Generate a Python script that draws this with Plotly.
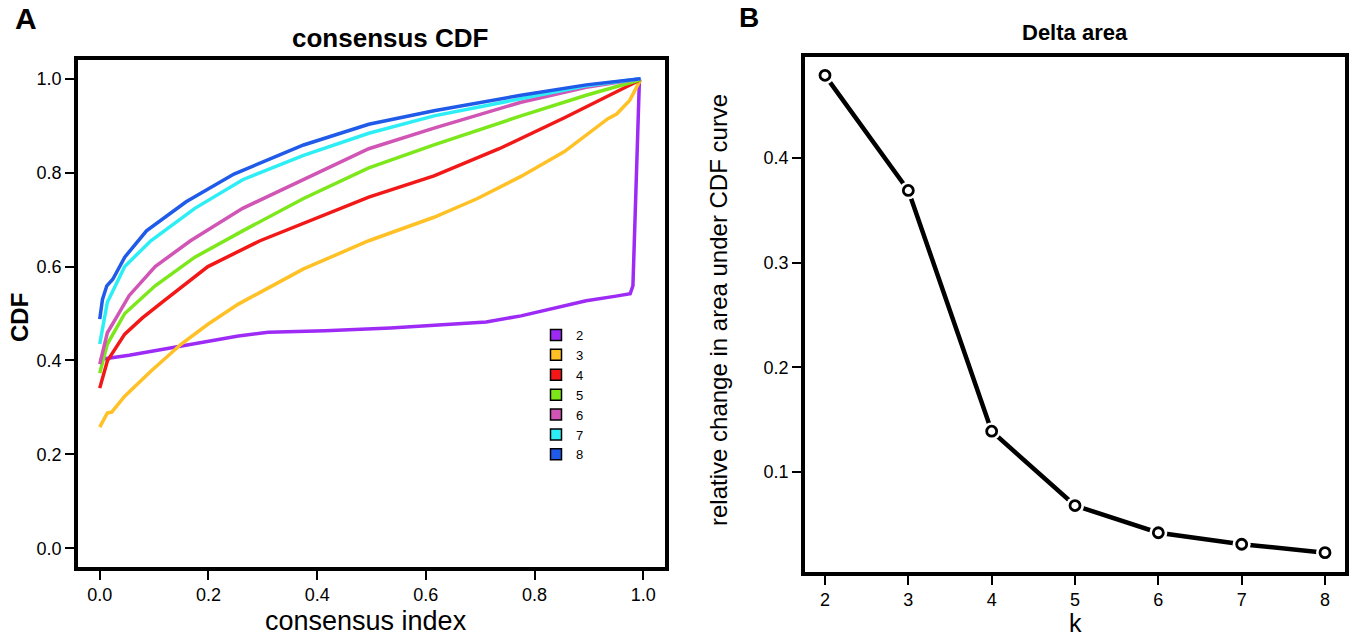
import plotly.graph_objects as go

W, H = 1354, 640

# ---------------- data: consensus CDF curves (k = 2..8) ----------------
cdf_x_k2 = [0.0, 0.006, 0.054, 0.135, 0.199, 0.255, 0.31, 0.415, 0.535, 0.655, 0.711, 0.775, 0.839, 0.895, 0.95, 0.971, 0.976, 0.981, 0.993]
cdf_y_k2 = [0.40, 0.403, 0.411, 0.427, 0.44, 0.452, 0.46, 0.463, 0.469, 0.477, 0.482, 0.495, 0.512, 0.527, 0.537, 0.542, 0.542, 0.559, 1.0]

cdf_x_k3 = [0.0, 0.014, 0.022, 0.046, 0.094, 0.15, 0.199, 0.255, 0.295, 0.375, 0.495, 0.615, 0.695, 0.775, 0.855, 0.935, 0.951, 0.975, 0.995]
cdf_y_k3 = [0.258, 0.288, 0.29, 0.324, 0.377, 0.435, 0.477, 0.52, 0.545, 0.595, 0.655, 0.705, 0.745, 0.792, 0.845, 0.915, 0.925, 0.954, 0.998]

cdf_x_k4 = [0.0, 0.01, 0.014, 0.046, 0.078, 0.118, 0.199, 0.295, 0.415, 0.495, 0.615, 0.735, 0.855, 0.951, 0.995]
cdf_y_k4 = [0.341, 0.38, 0.399, 0.456, 0.49, 0.527, 0.60, 0.655, 0.71, 0.748, 0.793, 0.851, 0.917, 0.972, 0.998]

cdf_x_k5 = [0.0, 0.014, 0.046, 0.102, 0.175, 0.263, 0.375, 0.495, 0.615, 0.775, 0.895, 0.995]
cdf_y_k5 = [0.373, 0.435, 0.50, 0.559, 0.62, 0.676, 0.745, 0.81, 0.859, 0.921, 0.965, 0.998]

cdf_x_k6 = [0.0, 0.014, 0.03, 0.054, 0.102, 0.167, 0.263, 0.375, 0.495, 0.615, 0.775, 0.895, 0.995]
cdf_y_k6 = [0.392, 0.459, 0.49, 0.538, 0.60, 0.655, 0.724, 0.786, 0.851, 0.895, 0.95, 0.982, 1.0]

cdf_x_k7 = [0.0, 0.006, 0.014, 0.046, 0.094, 0.175, 0.263, 0.375, 0.495, 0.615, 0.775, 0.895, 0.995]
cdf_y_k7 = [0.435, 0.47, 0.524, 0.60, 0.655, 0.724, 0.785, 0.837, 0.884, 0.921, 0.958, 0.985, 1.0]

cdf_x_k8 = [0.0, 0.005, 0.013, 0.024, 0.046, 0.086, 0.159, 0.247, 0.375, 0.495, 0.615, 0.775, 0.895, 0.995]
cdf_y_k8 = [0.488, 0.53, 0.559, 0.573, 0.62, 0.676, 0.738, 0.797, 0.859, 0.903, 0.932, 0.965, 0.987, 1.0]

cdf_labels = ["2", "3", "4", "5", "6", "7", "8"]
cdf_xs = [cdf_x_k2, cdf_x_k3, cdf_x_k4, cdf_x_k5, cdf_x_k6, cdf_x_k7, cdf_x_k8]
cdf_ys = [cdf_y_k2, cdf_y_k3, cdf_y_k4, cdf_y_k5, cdf_y_k6, cdf_y_k7, cdf_y_k8]
cdf_colors = ["#9D2BF5", "#FFC125", "#F21818", "#7CE81C", "#D055B5", "#2EEEF5", "#1F5AE8"]

cdf_ticks = [0.0, 0.2, 0.4, 0.6, 0.8, 1.0]
cdf_ticktext = ["0.0", "0.2", "0.4", "0.6", "0.8", "1.0"]

# ---------------- data: delta area ----------------
k_values = [2, 3, 4, 5, 6, 7, 8]
delta_area = [0.479, 0.369, 0.139, 0.068, 0.042, 0.031, 0.023]
delta_yticks = [0.1, 0.2, 0.3, 0.4]
delta_yticktext = ["0.1", "0.2", "0.3", "0.4"]

# ---------------- helpers ----------------
def px(x):
    return x / W

def py(y):
    return 1 - y / H

FONT = "Liberation Sans, Arial, sans-serif"
TICK_FONT = dict(family=FONT, size=18, color="black")

fig = go.Figure()

for lab, xs, ys, col in zip(cdf_labels, cdf_xs, cdf_ys, cdf_colors):
    fig.add_trace(go.Scatter(x=xs, y=ys, mode="lines", line=dict(color=col, width=3.5),
                             showlegend=False, xaxis="x", yaxis="y", hoverinfo="skip"))

for lab, col in zip(cdf_labels, cdf_colors):
    fig.add_trace(go.Scatter(x=[None], y=[None], mode="markers", name=lab,
                             marker=dict(symbol="square", size=11, color=col,
                                         line=dict(color="black", width=1.5)),
                             xaxis="x", yaxis="y", showlegend=True))

# delta area: line, white halos (gaps), open circles
fig.add_trace(go.Scatter(x=k_values, y=delta_area, mode="lines", line=dict(color="black", width=4.5),
                         xaxis="x2", yaxis="y2", showlegend=False))
fig.add_trace(go.Scatter(x=k_values, y=delta_area, mode="markers",
                         marker=dict(size=18, color="white", line=dict(width=0)),
                         xaxis="x2", yaxis="y2", showlegend=False))
fig.add_trace(go.Scatter(x=k_values, y=delta_area, mode="markers",
                         marker=dict(size=10, color="white", line=dict(color="black", width=2.8)),
                         xaxis="x2", yaxis="y2", showlegend=False))

axis_common = dict(showline=True, mirror=True, linecolor="black", linewidth=3.5,
                   ticks="outside", ticklen=9, tickwidth=2.2, tickcolor="black",
                   showgrid=False, zeroline=False, tickfont=TICK_FONT)

fig.update_layout(
    width=W, height=H,
    margin=dict(l=0, r=0, t=0, b=0),
    paper_bgcolor="white", plot_bgcolor="white",
    xaxis=dict(domain=[px(78), px(665)], range=[-0.04, 1.04], tickvals=cdf_ticks,
               ticktext=cdf_ticktext, anchor="y", **axis_common),
    yaxis=dict(domain=[py(567), py(60)], range=[-0.04, 1.04], tickvals=cdf_ticks,
               ticktext=cdf_ticktext, anchor="x", **axis_common),
    xaxis2=dict(domain=[px(805), px(1345)], range=[1.76, 8.24], tickvals=k_values,
                anchor="y2", **axis_common),
    yaxis2=dict(domain=[py(572), py(57)], range=[0.0045, 0.4965], tickvals=delta_yticks,
                ticktext=delta_yticktext, anchor="x2", **axis_common),
    legend=dict(x=px(536), y=py(320), xanchor="left", yanchor="top",
                bgcolor="rgba(0,0,0,0)", tracegroupgap=0,
                font=dict(family=FONT, size=13, color="black")),
    showlegend=True,
)

ann = [
    dict(text="<b>A</b>", x=px(26), y=py(19), size=30, angle=0),
    dict(text="<b>B</b>", x=px(749), y=py(18), size=28, angle=0),
    dict(text="<b>consensus CDF</b>", x=px(390), y=py(38), size=26, angle=0),
    dict(text="<b>Delta area</b>", x=px(1075), y=py(33), size=22, angle=0),
    dict(text="consensus index", x=px(366), y=py(621), size=27, angle=0),
    dict(text="k", x=px(1075), y=py(623), size=25, angle=0),
    dict(text="<b>CDF</b>", x=px(19), y=py(318), size=24, angle=-90),
    dict(text="relative change in area under CDF curve", x=px(718), y=py(310), size=24, angle=-90),
]
for a in ann:
    fig.add_annotation(text=a["text"], x=a["x"], y=a["y"], xref="paper", yref="paper",
                       xanchor="center", yanchor="middle", showarrow=False, textangle=a["angle"],
                       font=dict(family=FONT, size=a["size"], color="black"))

fig.write_html("out.html", config={"displayModeBar": False},
               post_script="document.body.style.margin='0px';document.body.style.padding='0px';")
